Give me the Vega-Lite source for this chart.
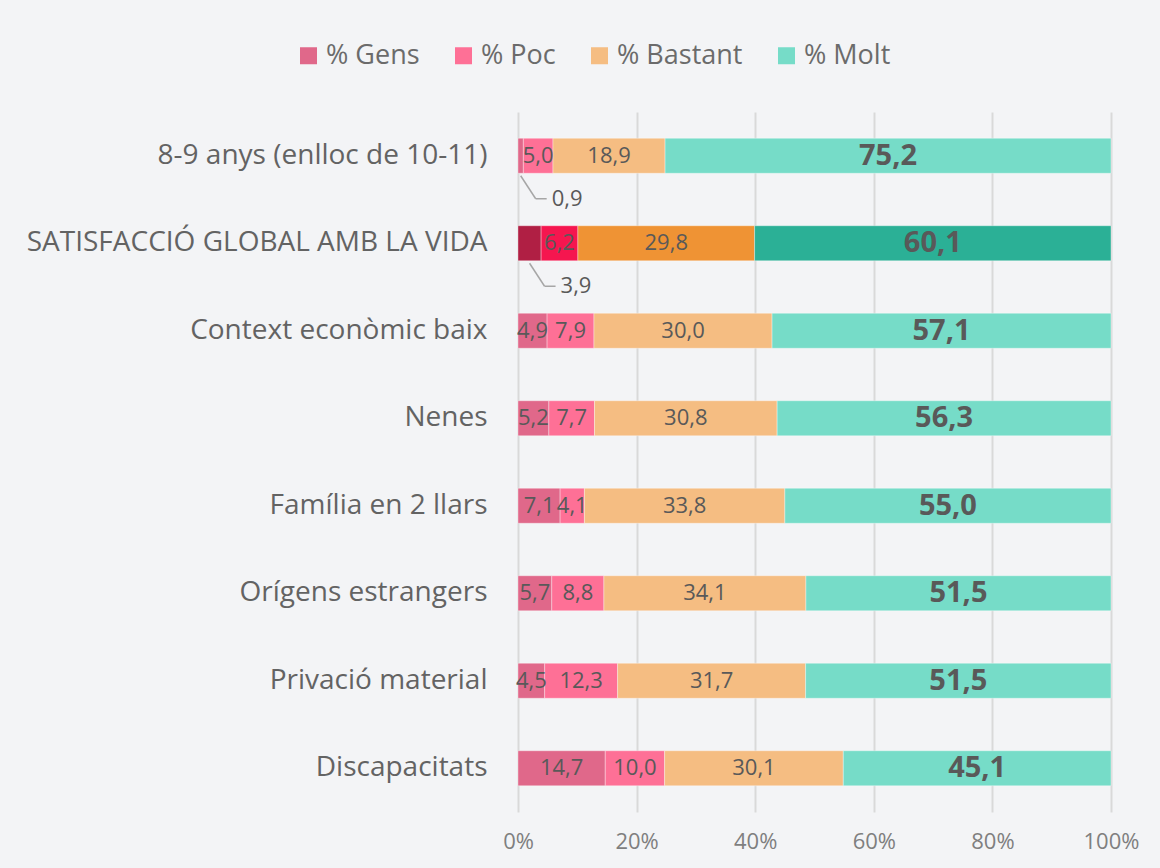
{
  "$schema": "https://vega.github.io/schema/vega-lite/v6.json",
  "width": 593,
  "height": 700,
  "autosize": {"type": "none"},
  "padding": {"left": 518, "top": 112, "right": 49, "bottom": 56},
  "background": "#f3f4f6",
  "config": {
    "font": "Open Sans",
    "view": {"stroke": null},
    "locale": {"number": {"decimal": ",", "thousands": ".", "grouping": [3], "currency": ["", " €"]}}
  },
  "data": {
    "values": [
      {"cat": "8-9 anys (enlloc de 10-11)", "serie": "% Gens", "clau": "% Gens", "k": 1, "v": 0.9},
      {"cat": "8-9 anys (enlloc de 10-11)", "serie": "% Poc", "clau": "% Poc", "k": 2, "v": 5.0},
      {"cat": "8-9 anys (enlloc de 10-11)", "serie": "% Bastant", "clau": "% Bastant", "k": 3, "v": 18.9},
      {"cat": "8-9 anys (enlloc de 10-11)", "serie": "% Molt", "clau": "% Molt", "k": 4, "v": 75.2},
      {"cat": "SATISFACCIÓ GLOBAL AMB LA VIDA", "serie": "% Gens", "clau": "Gens global", "k": 1, "v": 3.9},
      {"cat": "SATISFACCIÓ GLOBAL AMB LA VIDA", "serie": "% Poc", "clau": "Poc global", "k": 2, "v": 6.2},
      {"cat": "SATISFACCIÓ GLOBAL AMB LA VIDA", "serie": "% Bastant", "clau": "Bastant global", "k": 3, "v": 29.8},
      {"cat": "SATISFACCIÓ GLOBAL AMB LA VIDA", "serie": "% Molt", "clau": "Molt global", "k": 4, "v": 60.1},
      {"cat": "Context econòmic baix", "serie": "% Gens", "clau": "% Gens", "k": 1, "v": 4.9},
      {"cat": "Context econòmic baix", "serie": "% Poc", "clau": "% Poc", "k": 2, "v": 7.9},
      {"cat": "Context econòmic baix", "serie": "% Bastant", "clau": "% Bastant", "k": 3, "v": 30.0},
      {"cat": "Context econòmic baix", "serie": "% Molt", "clau": "% Molt", "k": 4, "v": 57.1},
      {"cat": "Nenes", "serie": "% Gens", "clau": "% Gens", "k": 1, "v": 5.2},
      {"cat": "Nenes", "serie": "% Poc", "clau": "% Poc", "k": 2, "v": 7.7},
      {"cat": "Nenes", "serie": "% Bastant", "clau": "% Bastant", "k": 3, "v": 30.8},
      {"cat": "Nenes", "serie": "% Molt", "clau": "% Molt", "k": 4, "v": 56.3},
      {"cat": "Família en 2 llars", "serie": "% Gens", "clau": "% Gens", "k": 1, "v": 7.1},
      {"cat": "Família en 2 llars", "serie": "% Poc", "clau": "% Poc", "k": 2, "v": 4.1},
      {"cat": "Família en 2 llars", "serie": "% Bastant", "clau": "% Bastant", "k": 3, "v": 33.8},
      {"cat": "Família en 2 llars", "serie": "% Molt", "clau": "% Molt", "k": 4, "v": 55.0},
      {"cat": "Orígens estrangers", "serie": "% Gens", "clau": "% Gens", "k": 1, "v": 5.7},
      {"cat": "Orígens estrangers", "serie": "% Poc", "clau": "% Poc", "k": 2, "v": 8.8},
      {"cat": "Orígens estrangers", "serie": "% Bastant", "clau": "% Bastant", "k": 3, "v": 34.1},
      {"cat": "Orígens estrangers", "serie": "% Molt", "clau": "% Molt", "k": 4, "v": 51.5},
      {"cat": "Privació material", "serie": "% Gens", "clau": "% Gens", "k": 1, "v": 4.5},
      {"cat": "Privació material", "serie": "% Poc", "clau": "% Poc", "k": 2, "v": 12.3},
      {"cat": "Privació material", "serie": "% Bastant", "clau": "% Bastant", "k": 3, "v": 31.7},
      {"cat": "Privació material", "serie": "% Molt", "clau": "% Molt", "k": 4, "v": 51.5},
      {"cat": "Discapacitats", "serie": "% Gens", "clau": "% Gens", "k": 1, "v": 14.7},
      {"cat": "Discapacitats", "serie": "% Poc", "clau": "% Poc", "k": 2, "v": 10.0},
      {"cat": "Discapacitats", "serie": "% Bastant", "clau": "% Bastant", "k": 3, "v": 30.1},
      {"cat": "Discapacitats", "serie": "% Molt", "clau": "% Molt", "k": 4, "v": 45.1}
    ]
  },
  "transform": [
    {"stack": "v", "groupby": ["cat"], "sort": [{"field": "k"}], "as": ["v0", "v1"], "offset": "normalize"}
  ],
  "encoding": {
    "y": {
      "field": "cat",
      "type": "nominal",
      "sort": ["8-9 anys (enlloc de 10-11)", "SATISFACCIÓ GLOBAL AMB LA VIDA", "Context econòmic baix", "Nenes", "Família en 2 llars", "Orígens estrangers", "Privació material", "Discapacitats"],
      "scale": {"paddingInner": 0.6, "paddingOuter": 0.3},
      "axis": {"title": null, "domain": false, "ticks": false, "labelFontSize": 28, "labelColor": "#636363", "labelPadding": 31, "labelLimit": 0}
    }
  },
  "layer": [
    {
      "mark": {"type": "bar", "stroke": "#ffffff", "strokeOpacity": 0.35, "strokeWidth": 1},
      "encoding": {
        "x": {
          "field": "v0",
          "type": "quantitative",
          "scale": {"domain": [0, 1], "nice": false},
          "axis": {"title": null, "format": ".0%", "values": [0, 0.2, 0.4, 0.6, 0.8, 1], "domain": false, "ticks": false, "grid": true, "gridColor": "#d9d9d9", "gridWidth": 2, "labelFontSize": 22, "labelColor": "#7f7f7f", "labelPadding": 19, "labelFlush": false}
        },
        "x2": {"field": "v1"},
        "order": {"field": "k", "type": "quantitative"},
        "color": {
          "field": "clau",
          "type": "nominal",
          "scale": {
            "domain": ["% Gens", "% Poc", "% Bastant", "% Molt", "Gens global", "Poc global", "Bastant global", "Molt global"],
            "range": ["#e0688a", "#fe7096", "#f5bd82", "#76dcc8", "#b01f44", "#f5164f", "#ef9334", "#2bb096"]
          },
          "legend": {
            "values": ["% Gens", "% Poc", "% Bastant", "% Molt"],
            "title": null,
            "orient": "none",
            "legendX": -223,
            "legendY": -70,
            "direction": "horizontal",
            "symbolType": "square",
            "symbolSize": 289,
            "symbolStrokeWidth": 0,
            "labelFontSize": 27,
            "labelColor": "#6b6b6b",
            "columnPadding": 30,
            "labelOffset": 4
          }
        }
      }
    },
    {
      "transform": [
        {"filter": "datum.v >= 4 && datum.serie !== '% Molt'"},
        {"fold": ["v0", "v1"], "as": ["pk", "pv"]},
        {"aggregate": [{"op": "mean", "field": "pv", "as": "mid"}], "groupby": ["cat", "serie", "v"]}
      ],
      "mark": {"type": "text", "fontSize": 22, "color": "#595959", "baseline": "middle"},
      "encoding": {
        "x": {"field": "mid", "type": "quantitative"},
        "text": {"field": "v", "type": "quantitative", "format": ".1f"}
      }
    },
    {
      "transform": [
        {"filter": "datum.serie === '% Molt'"},
        {"fold": ["v0", "v1"], "as": ["pk", "pv"]},
        {"aggregate": [{"op": "mean", "field": "pv", "as": "mid"}], "groupby": ["cat", "serie", "v"]}
      ],
      "mark": {"type": "text", "fontSize": 29, "fontWeight": "bold", "color": "#595959", "baseline": "middle"},
      "encoding": {
        "x": {"field": "mid", "type": "quantitative"},
        "text": {"field": "v", "type": "quantitative", "format": ".1f"}
      }
    },
    {
      "transform": [
        {"filter": "datum.v < 4"},
        {"fold": ["v0", "v1"], "as": ["pk", "pv"]},
        {"aggregate": [{"op": "mean", "field": "pv", "as": "mid"}], "groupby": ["cat", "serie", "v"]}
      ],
      "mark": {"type": "text", "fontSize": 22, "color": "#595959", "baseline": "middle", "align": "left", "dx": 31, "dy": 43},
      "encoding": {
        "x": {"field": "mid", "type": "quantitative"},
        "text": {"field": "v", "type": "quantitative", "format": ".1f"}
      }
    },
    {
      "transform": [
        {"filter": "datum.v < 4"},
        {"fold": ["v0", "v1"], "as": ["pk", "pv"]},
        {"aggregate": [{"op": "mean", "field": "pv", "as": "mid"}], "groupby": ["cat", "serie", "v"]}
      ],
      "mark": {"type": "rule", "color": "#a6a6a6", "strokeWidth": 1.5, "yOffset": 20, "y2Offset": 43, "x2Offset": 15},
      "encoding": {
        "x": {"field": "mid", "type": "quantitative"},
        "x2": {"field": "mid"},
        "y2": {"field": "cat"}
      }
    },
    {
      "transform": [
        {"filter": "datum.v < 4"},
        {"fold": ["v0", "v1"], "as": ["pk", "pv"]},
        {"aggregate": [{"op": "mean", "field": "pv", "as": "mid"}], "groupby": ["cat", "serie", "v"]}
      ],
      "mark": {"type": "rule", "color": "#a6a6a6", "strokeWidth": 1.5, "yOffset": 43, "xOffset": 15, "x2Offset": 26},
      "encoding": {
        "x": {"field": "mid", "type": "quantitative"},
        "x2": {"field": "mid"}
      }
    }
  ]
}
